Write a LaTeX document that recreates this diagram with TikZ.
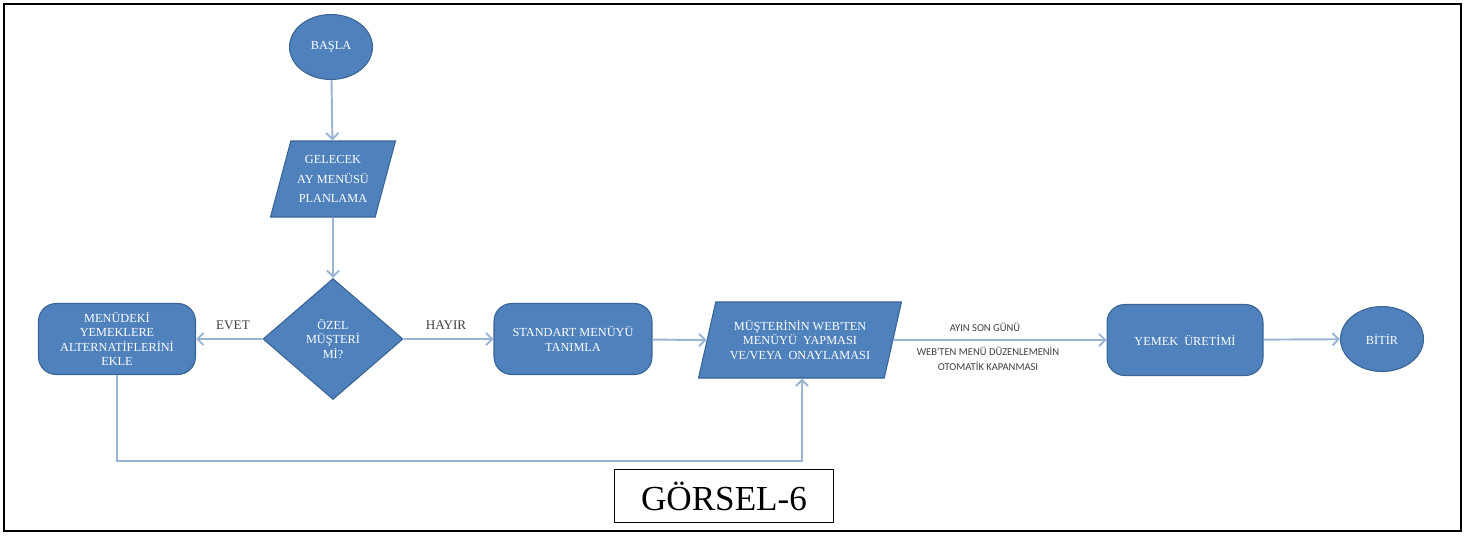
\documentclass[tikz,border=0pt]{standalone}
\usepackage{fontspec}
\setmainfont{Liberation Serif}
\newfontfamily\notefont{Carlito}
\usetikzlibrary{shapes.geometric,arrows.meta}
\definecolor{flowblue}{HTML}{4F81BD}
\definecolor{flowedge}{HTML}{3A6494}
\definecolor{flowline}{HTML}{9AB4D4}
\definecolor{labelgray}{HTML}{404040}

\begin{document}
\begin{tikzpicture}[x=0.02cm, y=-0.02cm,
    shapebase/.style={draw=flowedge, fill=flowblue, text=white, line width=0.6pt, align=center, inner sep=1pt, font=\fontsize{7}{8.2}\selectfont},
    terminal/.style={shapebase, ellipse, minimum width=1.66cm, minimum height=1.3cm},
    process/.style={shapebase, rectangle, rounded corners=10pt, minimum height=1.42cm},
    io/.style={shapebase, trapezium, trapezium left angle=68, trapezium right angle=112, trapezium stretches body, minimum height=1.52cm},
    decision/.style={shapebase, diamond, minimum width=2.8cm, minimum height=2.42cm},
    answer/.style={font=\fontsize{7.5}{9}\selectfont, text=labelgray},
    note/.style={font=\notefont\fontsize{6}{8.5}\selectfont, text=labelgray, align=center},
    arrow/.style={->, >={Straight Barb[length=3.5pt,width=7pt]}, draw=flowline, line width=1.1pt}
]
    \useasboundingbox (0,0) rectangle (1469,535);
    \draw[line width=1.6pt] (4,4) rectangle (1461,531);

    \node[terminal] (start) at (331,47) {BAŞLA};
    \node[io, minimum width=2.5cm, font=\fontsize{7}{11}\selectfont] (plan) at (333,179) {GELECEK\\AY MENÜSÜ\\PLANLAMA};
    \node[decision] (special) at (333,339) {ÖZEL\\MÜŞTERİ\\Mİ?};
    \node[process, minimum width=3.14cm] (alt) at (117,339) {MENÜDEKİ\\YEMEKLERE\\ALTERNATİFLERİNİ\\EKLE};
    \node[process, minimum width=3.16cm] (std) at (573,339) {STANDART MENÜYÜ\\TANIMLA};
    \node[io, minimum width=4.06cm] (web) at (800,340) {MÜŞTERİNİN WEB\textquotesingle TEN\\MENÜYÜ~~YAPMASI\\VE/VEYA~~ONAYLAMASI};
    \node[process, minimum width=3.12cm] (meal) at (1185,340) {YEMEK~~ÜRETİMİ};
    \node[terminal] (stop) at (1382,339) {BİTİR};

    \node[answer] (yes) at (233,325) {EVET};
    \node[answer] (no) at (446,325) {HAYIR};
    \node[note] (lastday) at (985,327) {AYIN SON GÜNÜ};
    \node[note] (close) at (988,359) {WEB\textquotesingle TEN MENÜ DÜZENLEMENİN\\OTOMATİK KAPANMASI};

    \node[draw, line width=0.8pt, minimum width=4.38cm, minimum height=1.06cm, font=\fontsize{20}{24}\selectfont] (caption) at (724,496) {GÖRSEL-6};

    \coordinate (loopend) at (802,461);

    \draw[arrow] (start) -- (plan);
    \draw[arrow] (plan) -- (special);
    \draw[arrow] (special) -- (alt);
    \draw[arrow] (special) -- (std);
    \draw[arrow] (std) -- (web.west);
    \draw[arrow] (alt.south) |- (loopend) -- (loopend |- web.south);
    \draw[arrow] (web.east) -- (meal.west);
    \draw[arrow] (meal) -- (stop);
\end{tikzpicture}
\end{document}
